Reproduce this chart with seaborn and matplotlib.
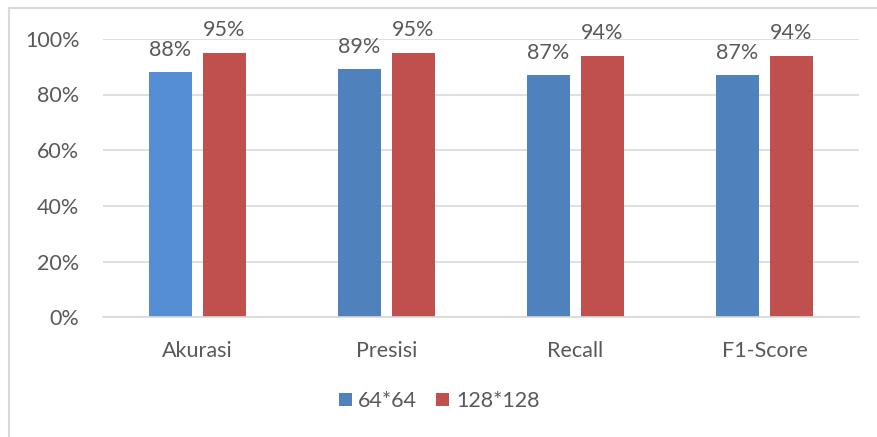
import matplotlib
matplotlib.use("Agg")
import matplotlib.pyplot as plt
import seaborn as sns
import pandas as pd
from matplotlib.lines import Line2D
from matplotlib.ticker import FuncFormatter

categories = ["Akurasi", "Presisi", "Recall", "F1-Score"]
series_names = ["64*64", "128*128"]
values_64 = [88, 89, 87, 87]
values_128 = [95, 95, 94, 94]
y_ticks = [0, 20, 40, 60, 80, 100]

df = pd.DataFrame({
    "metric": categories * 2,
    "size": [series_names[0]] * 4 + [series_names[1]] * 4,
    "value": values_64 + values_128,
})

sns.set_theme(style="white")
plt.rcParams['font.family'] = ['Lato', 'DejaVu Sans']
text_color = "#595959"
fs = 15.5

fig = plt.figure(figsize=(8.78, 4.37), dpi=100)
ax = fig.add_axes([103/878, 1-317.3/437, (859-103)/878, (317.3-38.8)/437])

blue = "#4F81BD"
red = "#C0504D"
sns.barplot(data=df, x="metric", y="value", hue="size", order=categories,
            hue_order=series_names, palette=[blue, red], width=0.572, gap=0.213,
            saturation=1, ax=ax, legend=True, linewidth=0)

# first bar slightly lighter like the reference
first_bars = ax.containers[0]
first_bars[0].set_facecolor("#558ED5")

for cont in ax.containers:
    ax.bar_label(cont, labels=[f"{int(round(v))}%" for v in cont.datavalues],
                 padding=9, fontsize=fs, color=text_color)

ax.set_ylim(0, 100)
ax.set_xlim(-0.5, 3.5)
ax.set_yticks(y_ticks)
ax.yaxis.set_major_formatter(FuncFormatter(lambda v, p: f"{int(v)}%"))
ax.grid(axis="y", color="#D9D9D9", linewidth=1.2)
ax.set_axisbelow(True)
for s in ["top", "right", "left"]:
    ax.spines[s].set_visible(False)
ax.spines["bottom"].set_color("#D9D9D9")
ax.spines["bottom"].set_linewidth(1.2)
ax.tick_params(axis="y", length=0, pad=17, labelsize=fs, labelcolor=text_color)
ax.tick_params(axis="x", length=0, pad=17, labelsize=fs, labelcolor=text_color)
ax.set_xlabel("")
ax.set_ylabel("")

leg = ax.legend(loc="center", bbox_to_anchor=(439/878, 1-401/437),
                bbox_transform=fig.transFigure, ncol=2, frameon=False,
                fontsize=fs, handlelength=0.6, handleheight=0.6,
                handletextpad=0.3, columnspacing=0.9, labelcolor=text_color)

# outer frame (top and left edges visible)
fig.add_artist(Line2D([9/878, 1.0], [1-8/437, 1-8/437], transform=fig.transFigure,
                      color="#D9D9D9", linewidth=1.5))
fig.add_artist(Line2D([9/878, 9/878], [0, 1-8/437], transform=fig.transFigure,
                      color="#D9D9D9", linewidth=1.5))

fig.savefig("out.png", dpi=100)
